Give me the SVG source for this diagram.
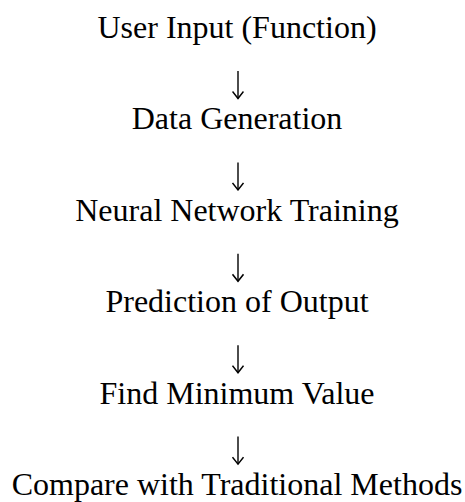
<svg xmlns="http://www.w3.org/2000/svg" width="465" height="502" viewBox="0 0 465 502">
<style>
  text { font-family: "Liberation Serif", "Times New Roman", serif; font-size: 32px; fill: #000; text-anchor: middle; }
  .conn { stroke: #000; stroke-width: 1.4; fill: none; }
</style>
<defs>
  <marker id="arrow" viewBox="0 0 12 12" refX="10.5" refY="6" markerWidth="12" markerHeight="12" markerUnits="userSpaceOnUse" orient="auto">
    <path d="M3.5,0.5 L10.5,6 L3.5,11.5" fill="none" stroke="#000" stroke-width="1.5"/>
  </marker>
</defs>
<rect width="465" height="502" fill="#fff"/>
<g id="node-user-input"><text x="237" y="38">User Input (Function)</text></g>
<g id="node-data-generation"><text x="237" y="129.4">Data Generation</text></g>
<g id="node-nn-training"><text x="237" y="220.8">Neural Network Training</text></g>
<g id="node-prediction"><text x="237" y="312.2">Prediction of Output</text></g>
<g id="node-find-min"><text x="237" y="403.6">Find Minimum Value</text></g>
<g id="node-compare"><text x="237" y="495">Compare with Traditional Methods</text></g>
<g id="connectors">
  <line class="conn" x1="238" y1="71" x2="238" y2="98.5" marker-end="url(#arrow)"/>
  <line class="conn" x1="238" y1="162.4" x2="238" y2="189.9" marker-end="url(#arrow)"/>
  <line class="conn" x1="238" y1="253.8" x2="238" y2="281.3" marker-end="url(#arrow)"/>
  <line class="conn" x1="238" y1="345.2" x2="238" y2="372.7" marker-end="url(#arrow)"/>
  <line class="conn" x1="238" y1="436.6" x2="238" y2="464.1" marker-end="url(#arrow)"/>
</g>
</svg>
